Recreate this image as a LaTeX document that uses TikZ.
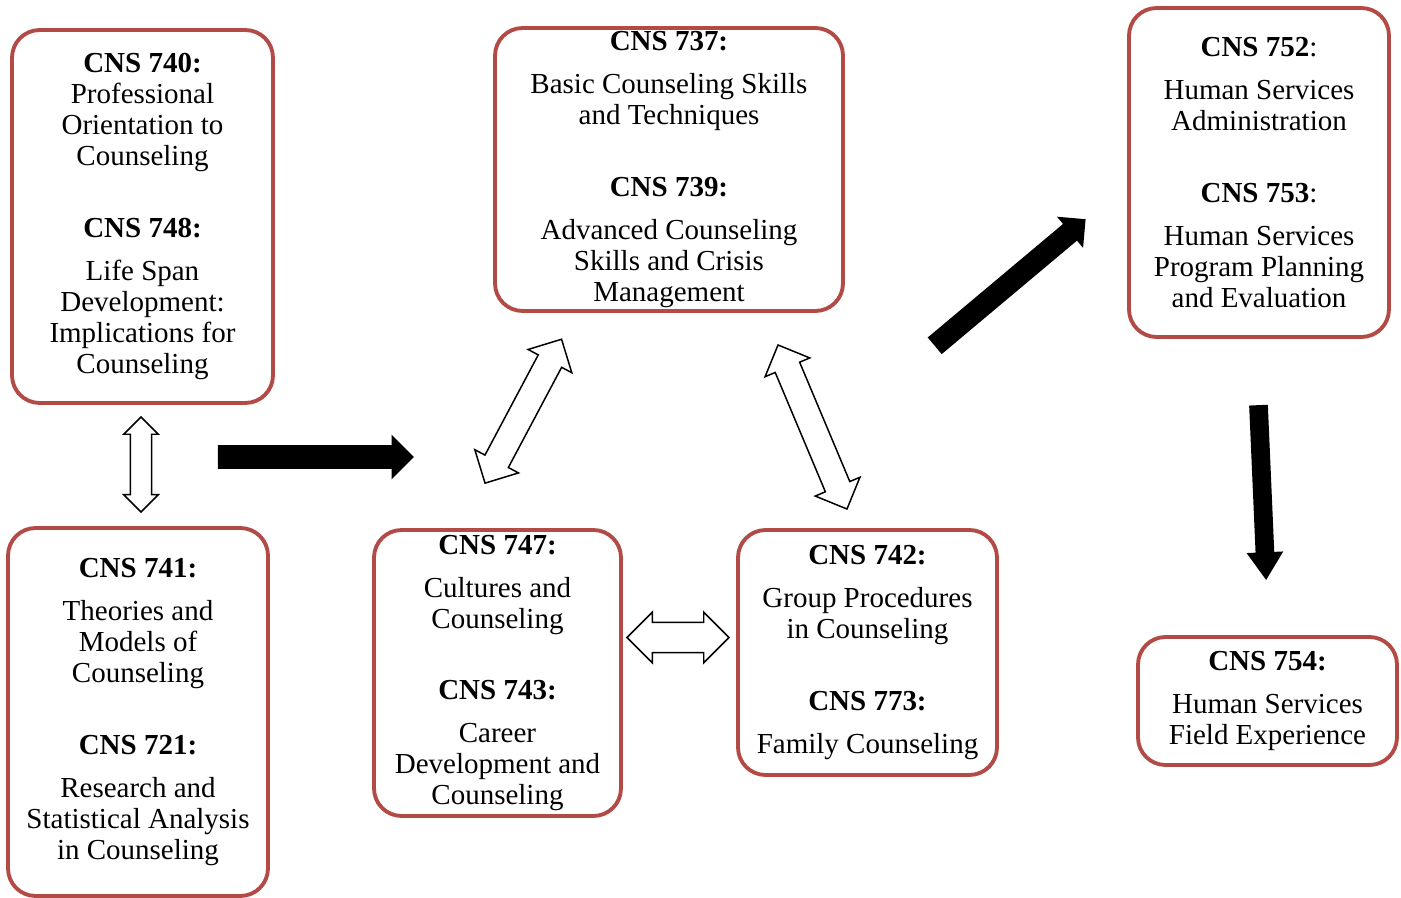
\documentclass[tikz,border=0pt]{standalone}
\usepackage{fontspec}
\setmainfont{Liberation Serif}
\usetikzlibrary{shapes.arrows}
\definecolor{boxred}{RGB}{178,74,70}
\tikzset{
  course/.style={draw=boxred, line width=2.2pt, rounded corners=0.55cm, align=center,
    inner sep=0pt, font=\fontsize{16.5}{17.6}\selectfont},
  hollow/.style={double arrow, draw=black, fill=white, line width=0.85pt, inner xsep=0pt,
    minimum width=0pt, double arrow tip angle=90},
  blockarrow/.style={single arrow, fill=black, inner xsep=0pt, minimum width=0pt,
    single arrow tip angle=90}
}
\begin{document}
\begin{tikzpicture}[x=0.02cm, y=-0.02cm]
		\useasboundingbox (0,0) rectangle (1401,898);
		% course boxes
		\node[course, minimum width=5.22cm, minimum height=7.46cm] (c740) at (142.5,216.5)
			{\textbf{CNS 740:}\\ Professional\\ Orientation to\\ Counseling\\[23pt]
			 \textbf{CNS 748:}\\[7pt] Life Span\\ Development:\\ Implications for\\ Counseling};
		\node[course, minimum width=6.96cm, minimum height=5.66cm] (c737) at (669,169.5)
			{\textbf{CNS 737:}\\[7pt] Basic Counseling Skills\\ and Techniques\\[23pt]
			 \textbf{CNS 739:}\\[7pt] Advanced Counseling\\ Skills and Crisis\\ Management};
		\node[course, minimum width=5.2cm, minimum height=6.58cm] (c752) at (1259,172.5)
			{\textbf{CNS 752}:\\[7pt] Human Services\\ Administration\\[23pt]
			 \textbf{CNS 753}:\\[7pt] Human Services\\ Program Planning\\ and Evaluation};
		\node[course, minimum width=5.2cm, minimum height=7.36cm] (c741) at (138,712)
			{\textbf{CNS 741:}\\[7pt] Theories and\\ Models of\\ Counseling\\[23pt]
			 \textbf{CNS 721:}\\[7pt] Research and\\ Statistical Analysis\\ in Counseling};
		\node[course, minimum width=4.94cm, minimum height=5.72cm] (c747) at (497.5,673)
			{\textbf{CNS 747:}\\[7pt] Cultures and\\ Counseling\\[23pt]
			 \textbf{CNS 743:}\\[7pt] Career\\ Development and\\ Counseling};
		\node[course, minimum width=5.18cm, minimum height=4.9cm] (c742) at (867.5,652.5)
			{\textbf{CNS 742:}\\[7pt] Group Procedures\\ in Counseling\\[23pt]
			 \textbf{CNS 773:}\\[7pt] Family Counseling};
		\node[course, minimum width=5.18cm, minimum height=2.56cm] (c754) at (1267.5,701)
			{\textbf{CNS 754:}\\[7pt] Human Services\\ Field Experience};
		% two-way arrows
		\node[hollow, minimum height=1.9cm, inner ysep=0.2cm, double arrow head extend=0.13cm,
			rotate=90] (dv) at (141,464.5) {};
		\node[hollow, minimum height=3.26cm, inner ysep=0.25cm, double arrow head extend=0.23cm,
			rotate=62] (dl) at (523.3,411.2) {};
		\node[hollow, minimum height=3.56cm, inner ysep=0.25cm, double arrow head extend=0.22cm,
			rotate=-67.2] (dr) at (812.5,427) {};
		\node[hollow, minimum height=2.04cm, inner ysep=0.29cm, double arrow head extend=0.2cm]
			(dh) at (678,637.5) {};
		% one-way arrows
		\node[blockarrow, minimum height=3.92cm, inner ysep=0.23cm, single arrow head extend=0.21cm]
			(ar) at (310,457) {};
		\node[blockarrow, minimum height=3.94cm, inner ysep=0.21cm, single arrow head extend=0.19cm,
			rotate=40] (au) at (1006,286) {};
		\node[blockarrow, minimum height=3.5cm, inner ysep=0.18cm, single arrow head extend=0.18cm,
			single arrow tip angle=67, rotate=-87.5] (ad) at (1262,485.5) {};
	\end{tikzpicture}
\end{document}
